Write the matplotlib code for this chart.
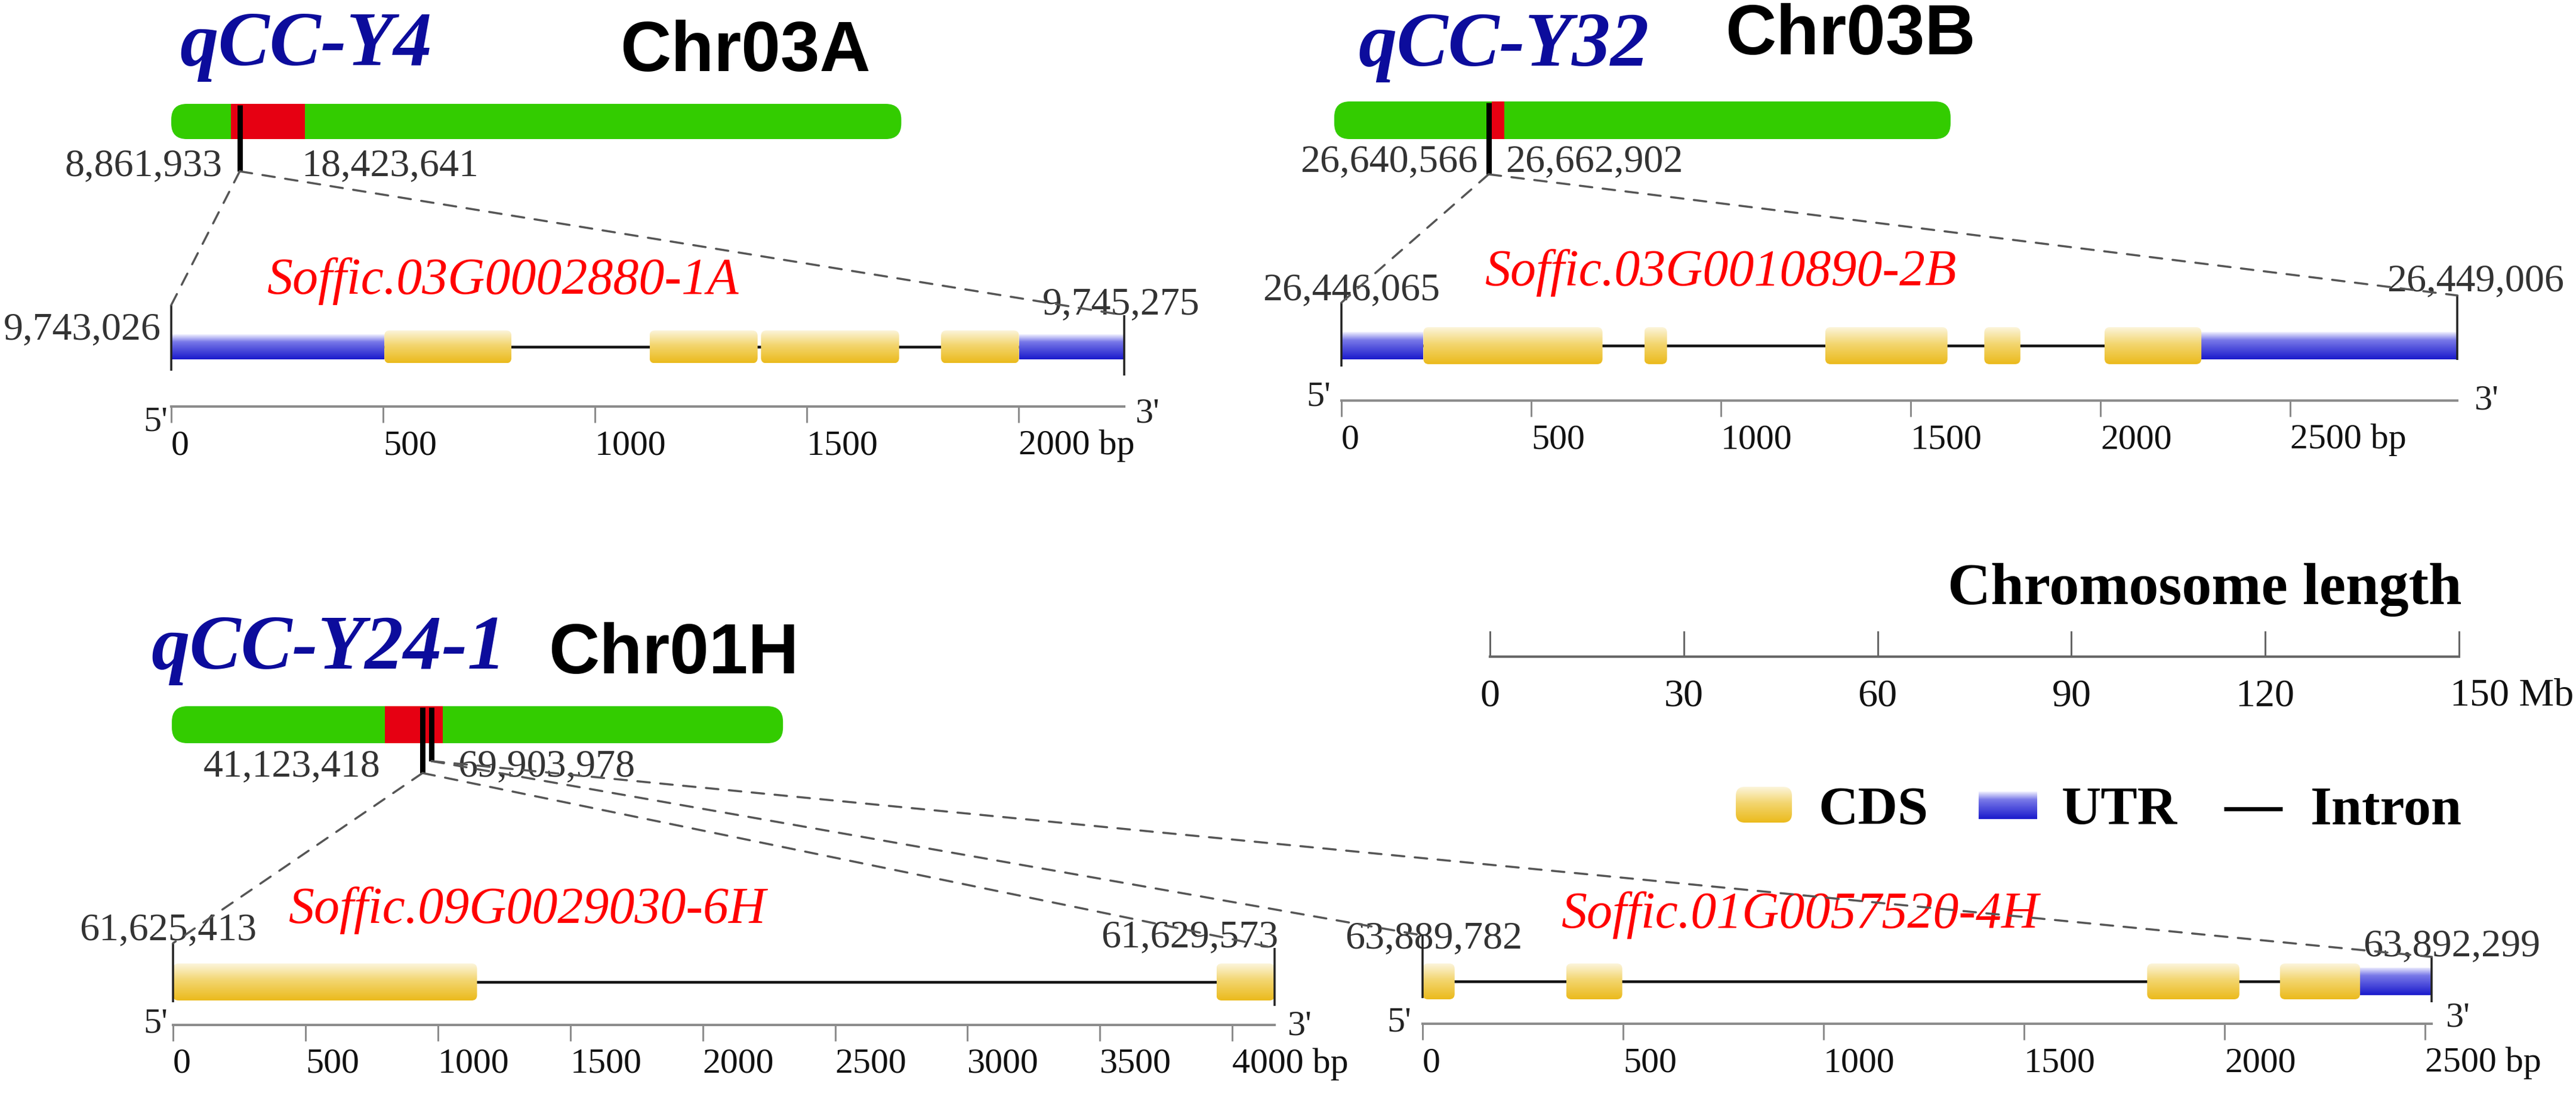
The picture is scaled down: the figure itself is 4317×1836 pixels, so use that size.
"""QTL candidate genes: three chromosome bars with their QTL windows, and the exon/intron structure of the
four candidate genes underneath, linked by dashed zoom lines.
"""
import numpy as np
import matplotlib
matplotlib.use("Agg")
import matplotlib.pyplot as plt
from matplotlib.patches import FancyBboxPatch, Rectangle, ConnectionPatch
from matplotlib.colors import LinearSegmentedColormap

# ---- data ----------------------------------------------------------------------------------
CHROMS = ["Chr03A", "Chr03B", "Chr01H"]
QTLS = ["qCC-Y4", "qCC-Y32", "qCC-Y24-1"]
CHROM_LEN_MB = [113.0, 95.4, 94.6]
QTL_START_MB = [9.2, 24.4, 33.0]
QTL_END_MB = [20.7, 26.3, 41.9]
QTL_LEFT_LABEL = ["8,861,933", "26,640,566", "41,123,418"]
QTL_RIGHT_LABEL = ["18,423,641", "26,662,902", "69,903,978"]

GENES = ["Soffic.03G0002880-1A", "Soffic.03G0010890-2B", "Soffic.09G0029030-6H", "Soffic.01G0057520-4H"]
GENE_CHROM = [0, 1, 2, 2]
GENE_START = [9743026, 26446065, 61625413, 63889782]
GENE_END = [9745275, 26449006, 61629573, 63892299]
GENE_MARK_MB = [10.6, 23.9, 38.8, 40.2]
CDS = [[(503, 803), (1129, 1384), (1392, 1718), (1817, 2001)],
       [(216, 688), (798, 858), (1275, 1597), (1694, 1789), (2011, 2266)],
       [(0, 1148), (3940, 4160)],
       [(0, 80), (358, 498), (1807, 2037), (2138, 2338)]]
UTR = [[(0, 503), (2001, 2249)],
       [(0, 216), (2266, 2941)],
       [],
       [(2338, 2517)]]
SCALE_MB = [0, 30, 60, 90, 120, 150]

# ---- layout (image pixels) -----------------------------------------------------------------
W, H, DPI = 4317, 1836, 100
PT = 72 / DPI
SERIF, SANS = "Liberation Serif", "Liberation Sans"
PX_PER_MB = 1624 / 150

CHR_X0 = [287, 2236, 288]
CHR_TOP = [174, 170, 1183]
CHR_BOT = [233, 233, 1245]
MARK_BOT = [287, 292, 1295, 1275]
QTL_XY = [(301, 109), (2276, 110), (253, 1120)]
CHR_XY = [(1039, 119), (2891, 91), (919, 1128)]
QTL_LBL_LEFT = [(373, 294), (2477, 287), (638, 1300)]
QTL_LBL_RIGHT = [(505, 294), (2523, 287), (767, 1300)]

GENE_X0 = [287, 2248, 290, 2384]
GENE_PPB = [0.71, 0.636, 0.4438, 0.672]
TRACK_Y = [581, 579, 1645, 1644]
CDS_H = [55, 62, 62, 60]
UTR_H = [42, 46, 46, 47]
AXIS_Y = [681, 671, 1717, 1715]
VL_LEFT = [(511, 621), (507, 614), (1580, 1679), (1567, 1672)]
VL_RIGHT = [(528, 629), (495, 603), (1588, 1685), (1603, 1679)]
NAME_XY = [(448, 492), (2489, 478), (484, 1546), (2617, 1554)]
START_XY = [(270, 568, "right"), (2116, 502, "left"), (133, 1574, "left"), (2254, 1588, "left")]
END_XY = [(1747, 526), (4000, 487), (1845, 1586), (3960, 1601)]
FIVE_XY = [(281, 707), (2230, 666), (281, 1716), (2365, 1714)]
THREE_XY = [(1903, 693), (4147, 672), (2158, 1720), (4099, 1705)]

GREEN, RED = "#33CC00", "#E60012"
CDS_CMAP = LinearSegmentedColormap.from_list(
    "cds", [(0, "#FCF5DC"), (0.45, "#F3D670"), (1, "#EBBA1C")])
UTR_CMAP = LinearSegmentedColormap.from_list(
    "utr", [(0, "#F2F2FF"), (0.3, "#7878E8"), (1, "#1A1ACC")])
GRAD = np.linspace(0, 1, 256).reshape(-1, 1)

fig = plt.figure(figsize=(W / DPI, H / DPI), dpi=DPI)
ov = fig.add_axes([0, 0, 1, 1])
ov.set_xlim(0, W); ov.set_ylim(H, 0); ov.axis("off")


def px_axes(x0, ppu, lo, hi, top, bottom):
    """Axes with x in data units (pixel x0 is 0, ppu pixels per unit) and y in image pixels."""
    left, right = x0 + lo * ppu, x0 + hi * ppu
    ax = fig.add_axes([left / W, 1 - bottom / H, (right - left) / W, (bottom - top) / H])
    ax.set_xlim(lo, hi); ax.set_ylim(bottom, top)
    ax.patch.set_visible(False)
    for s in ax.spines.values():
        s.set_visible(False)
    ax.set_xticks([]); ax.set_yticks([])
    return ax


def gradient_box(ax, x0, x1, yc, h, cmap, round_px=0, aspect=1.0):
    """A box filled with a vertical light-to-dark gradient, optionally with rounded corners."""
    if round_px:
        style = f"round,pad=0,rounding_size={round_px / aspect}"
    else:
        style = "square,pad=0"
    box = FancyBboxPatch((x0, yc - h / 2), x1 - x0, h, boxstyle=style, mutation_aspect=aspect,
                         fc="none", ec="none")
    ax.add_patch(box)
    im = ax.imshow(GRAD, cmap=cmap, extent=(x0, x1, yc + h / 2, yc - h / 2), aspect="auto",
                   origin="upper", zorder=3, interpolation="bilinear")
    im.set_clip_path(box)


def label(x, y, s, size_px, ha="left", va="baseline", **kw):
    kw.setdefault("family", SERIF)
    kw.setdefault("color", "#333333")
    ov.text(x, y, s, fontsize=size_px * PT, ha=ha, va=va, **kw)


# ---- chromosomes ---------------------------------------------------------------------------
chr_axes = []
for i, name in enumerate(CHROMS):
    ax = px_axes(CHR_X0[i], PX_PER_MB, -3, 152, CHR_TOP[i] - 30, CHR_BOT[i] + 90)
    top, h = CHR_TOP[i], CHR_BOT[i] - CHR_TOP[i]
    ax.add_patch(FancyBboxPatch((0, top), CHROM_LEN_MB[i], h, mutation_aspect=PX_PER_MB,
                                boxstyle=f"round,pad=0,rounding_size={26 / PX_PER_MB}",
                                fc=GREEN, ec="none", zorder=1))
    ax.add_patch(Rectangle((QTL_START_MB[i], top), QTL_END_MB[i] - QTL_START_MB[i], h,
                           fc=RED, ec="none", zorder=2))
    chr_axes.append(ax)

    ov.text(*QTL_XY[i], QTLS[i], family=SERIF, weight="bold", style="italic", color="#0C0C9C",
            fontsize=129 * PT, va="baseline")
    ov.text(*CHR_XY[i], name, family=SANS, weight="bold", color="black", fontsize=118 * PT, va="baseline")
    label(*QTL_LBL_LEFT[i], QTL_LEFT_LABEL[i], 66, ha="right")
    label(*QTL_LBL_RIGHT[i], QTL_RIGHT_LABEL[i], 66)

for g, mb in enumerate(GENE_MARK_MB):
    c = GENE_CHROM[g]
    chr_axes[c].vlines(mb, CHR_TOP[c] + 2, MARK_BOT[g], color="black", lw=9 * PT, zorder=3)

# ---- genes ---------------------------------------------------------------------------------
for g, name in enumerate(GENES):
    length = GENE_END[g] - GENE_START[g]
    ppb = GENE_PPB[g]
    lo, hi = -260 / ppb, length + 260 / ppb
    ax = px_axes(GENE_X0[g], ppb, lo, hi, TRACK_Y[g] - 200, AXIS_Y[g] + 120)
    yc = TRACK_Y[g]

    ax.hlines(yc, 0, length, color="#111111", lw=4.5 * PT, zorder=1)
    for s, e in UTR[g]:
        gradient_box(ax, s, e, yc, UTR_H[g], UTR_CMAP)
    for s, e in CDS[g]:
        gradient_box(ax, s, e, yc, CDS_H[g], CDS_CMAP, round_px=9, aspect=ppb)
    ax.vlines(0, *VL_LEFT[g], color="#222222", lw=3.5 * PT, zorder=4)
    ax.vlines(length, *VL_RIGHT[g], color="#222222", lw=3.5 * PT, zorder=4)

    sp = ax.spines["bottom"]
    sp.set_visible(True)
    sp.set_position(("data", AXIS_Y[g]))
    sp.set_bounds(0, length)
    sp.set_color("#8c8c8c"); sp.set_linewidth(4 * PT)
    ticks = np.arange(0, length + 1, 500)
    names = [str(t) for t in ticks]
    names[-1] += " bp"
    ax.set_xticks(ticks)
    ax.set_xticklabels(names, ha="left", family=SERIF, fontsize=60 * PT, color="#111111")
    ax.tick_params(axis="x", direction="out", length=27 * PT, width=3 * PT, color="#8c8c8c", pad=12 * PT)
    ax.set_xlim(lo, hi); ax.set_ylim(AXIS_Y[g] + 120, TRACK_Y[g] - 200)

    ov.text(*NAME_XY[g], name, family=SERIF, style="italic", color="#FF0000", fontsize=86 * PT, va="baseline")
    sx, sy, sha = START_XY[g]
    label(sx, sy, f"{GENE_START[g]:,}", 66, ha=sha)
    label(*END_XY[g], f"{GENE_END[g]:,}", 66)
    label(*FIVE_XY[g], "5'", 60, ha="right", va="center", color="#222222")
    label(*THREE_XY[g], "3'", 60, va="center", color="#222222")

    # dashed zoom lines from the marker on the chromosome to both gene ends
    c = GENE_CHROM[g]
    for xb, yb in [(0, VL_LEFT[g][0]), (length, VL_RIGHT[g][0])]:
        con = ConnectionPatch(xyA=(GENE_MARK_MB[g], MARK_BOT[g]), coordsA=chr_axes[c].transData,
                              xyB=(xb, yb), coordsB=ax.transData, color="#555555",
                              lw=3.5 * PT, linestyle=(0, (6, 5)), zorder=10)
        fig.add_artist(con)

# ---- chromosome length scale ---------------------------------------------------------------
sc = px_axes(2497, PX_PER_MB, -5, 165, 900, 1260)
sp = sc.spines["bottom"]
sp.set_visible(True); sp.set_position(("data", 1100)); sp.set_bounds(0, 150)
sp.set_color("#666666"); sp.set_linewidth(4 * PT)
sc.set_xticks(SCALE_MB)
sc.set_xticklabels([str(v) for v in SCALE_MB[:-1]] + [""], family=SERIF, fontsize=66 * PT, color="#111111")
sc.tick_params(axis="x", direction="in", length=43 * PT, width=3 * PT, color="#666666", pad=37 * PT)
sc.annotate(f"{SCALE_MB[-1]} Mb", xy=(SCALE_MB[-1], 1100), xytext=(-15, -82), textcoords="offset pixels",
            family=SERIF, fontsize=66 * PT, color="#111111", va="baseline", ha="left")
sc.annotate("Chromosome length", xy=(SCALE_MB[-1], 1100), xytext=(4, 88), textcoords="offset pixels",
            family=SERIF, weight="bold", fontsize=100 * PT, color="black", va="baseline", ha="right")
sc.set_xlim(-5, 165); sc.set_ylim(1260, 900)

# ---- legend --------------------------------------------------------------------------------
gradient_box(ov, 2909, 3003, 1348, 60, CDS_CMAP, round_px=15)
gradient_box(ov, 3316, 3414, 1349, 46, UTR_CMAP)
ov.plot([3727, 3825], [1355, 1355], color="black", lw=7 * PT, solid_capstyle="butt")
for x, s in [(3048, "CDS"), (3455, "UTR"), (3872, "Intron")]:
    ov.text(x, 1381, s, family=SERIF, weight="bold", fontsize=92 * PT, color="black", va="baseline")
ov.set_xlim(0, W); ov.set_ylim(H, 0)

fig.savefig("out.png", dpi=DPI)
